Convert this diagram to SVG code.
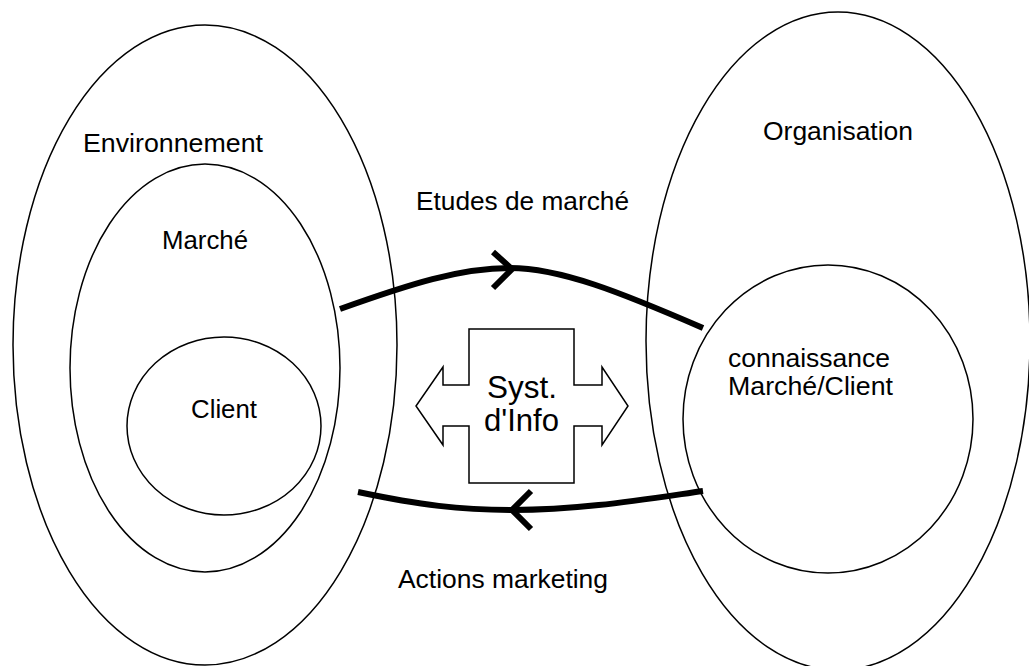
<svg xmlns="http://www.w3.org/2000/svg" width="1029" height="666" viewBox="0 0 1029 666">
<style>
.shape{fill:none;stroke:#000;stroke-width:1.5}
.lbl{font-family:"Liberation Sans",Arial,sans-serif;font-size:25px;fill:#000}
.big{font-family:"Liberation Sans",Arial,sans-serif;font-size:31px;fill:#000;text-anchor:middle}
.flow{fill:none;stroke:#000;stroke-width:6}
.head{fill:none;stroke:#000;stroke-width:6;stroke-linecap:butt}
</style>
<rect width="1029" height="666" fill="#fff"/>
<g id="environnement">
<ellipse class="shape" cx="205" cy="345" rx="192" ry="320"/>
<text class="lbl" x="83" y="152" textLength="180" lengthAdjust="spacingAndGlyphs">Environnement</text>
</g>
<g id="marche">
<ellipse class="shape" cx="205" cy="368" rx="135" ry="204"/>
<text class="lbl" x="162" y="249" textLength="86" lengthAdjust="spacingAndGlyphs">Marché</text>
</g>
<g id="client">
<ellipse class="shape" cx="224" cy="426" rx="97" ry="89"/>
<text class="lbl" x="191" y="418" textLength="66" lengthAdjust="spacingAndGlyphs">Client</text>
</g>
<g id="organisation">
<ellipse class="shape" cx="838" cy="341" rx="192" ry="329"/>
<text class="lbl" x="763" y="140" textLength="150" lengthAdjust="spacingAndGlyphs">Organisation</text>
</g>
<g id="connaissance">
<ellipse class="shape" cx="828" cy="419" rx="145" ry="154"/>
<text class="lbl" x="728" y="367" textLength="162" lengthAdjust="spacingAndGlyphs">connaissance</text>
<text class="lbl" x="728" y="395" textLength="165" lengthAdjust="spacingAndGlyphs">Marché/Client</text>
</g>
<g id="systeme-info">
<polygon class="shape" points="469,329 574,329 574,385 602,385 602,367 628,406 602,445 602,426 574,426 574,483 469,483 469,426 443,426 443,445 416,406 443,367 443,385 469,385"/>
<text class="big" x="522" y="398" textLength="70" lengthAdjust="spacingAndGlyphs">Syst.</text>
<text class="big" x="521.5" y="431" textLength="75" lengthAdjust="spacingAndGlyphs">d'Info</text>
</g>
<g id="connectors">
<path class="flow" d="M340,309 C410,284 460,268 510,268 C560,268 620,292 703,328"/>
<polyline class="head" points="493,252 512,269 493,288"/>
<text class="lbl" x="416" y="210" textLength="213" lengthAdjust="spacingAndGlyphs">Etudes de marché</text>
<path class="flow" d="M358,492 C420,505 460,510 512,510 C580,510 640,500 703,491"/>
<polyline class="head" points="531,491 512,510 531,529"/>
<text class="lbl" x="398" y="588" textLength="210" lengthAdjust="spacingAndGlyphs">Actions marketing</text>
</g>
</svg>
